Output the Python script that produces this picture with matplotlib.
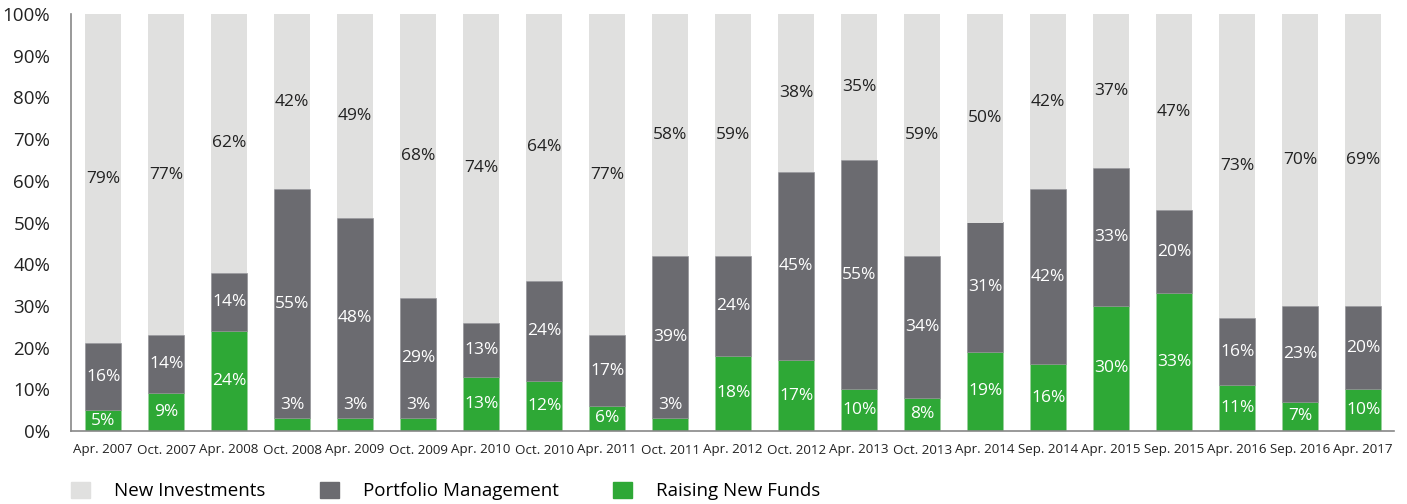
import matplotlib
matplotlib.use("Agg")
import matplotlib.pyplot as plt
from matplotlib.patches import Patch
import numpy as np

plt.rcParams['font.family'] = ['Open Sans', 'DejaVu Sans']

periods = ['Apr. 2007', 'Oct. 2007', 'Apr. 2008', 'Oct. 2008', 'Apr. 2009', 'Oct. 2009',
           'Apr. 2010', 'Oct. 2010', 'Apr. 2011', 'Oct. 2011', 'Apr. 2012', 'Oct. 2012',
           'Apr. 2013', 'Oct. 2013', 'Apr. 2014', 'Sep. 2014', 'Apr. 2015', 'Sep. 2015',
           'Apr. 2016', 'Sep. 2016', 'Apr. 2017']
raising = [5, 9, 24, 3, 3, 3, 13, 12, 6, 3, 18, 17, 10, 8, 19, 16, 30, 33, 11, 7, 10]
portfolio = [16, 14, 14, 55, 48, 29, 13, 24, 17, 39, 24, 45, 55, 34, 31, 42, 33, 20, 16, 23, 20]
new_inv = [79, 77, 62, 42, 49, 68, 74, 64, 77, 58, 59, 38, 35, 59, 50, 42, 37, 47, 73, 70, 69]

c_light = '#e0e0df'
c_dark = '#6b6b70'
c_green = '#2ea836'

fig = plt.figure(figsize=(14.07, 5.04), dpi=100)
ax = fig.add_axes([71 / 1407, 73 / 504, (1394 - 71) / 1407, (431 - 14) / 504])

x = np.arange(len(periods))
r = np.array(raising)
p = np.array(portfolio)
top = r + p
rest = 100 - top
w = 0.57
ax.bar(x, r, w, color=c_green, edgecolor='#9ccf9f', linewidth=0.4)
ax.bar(x, p, w, bottom=r, color=c_dark, edgecolor='#8a8a8e', linewidth=0.4)
ax.bar(x, rest, w, bottom=top, color=c_light, linewidth=0)

fs = 12.5
for i in range(len(x)):
    yg = r[i] / 2 if r[i] >= 4 else r[i] + 3.3
    ax.text(x[i], yg, f'{raising[i]}%', ha='center', va='center', color='white', fontsize=fs)
    ax.text(x[i], r[i] + p[i] / 2, f'{portfolio[i]}%', ha='center', va='center', color='white', fontsize=fs)
    ax.text(x[i], top[i] + rest[i] / 2, f'{new_inv[i]}%', ha='center', va='center', color='#222222', fontsize=fs)

ax.set_xlim(-0.51, 20.49)
ax.set_ylim(0, 100)
ax.set_yticks(range(0, 101, 10))
ax.set_yticklabels([f'{v}%' for v in range(0, 101, 10)], fontsize=13.5, color='#222222')
ax.set_xticks(x)
ax.set_xticklabels(periods, fontsize=9.6, color='#222222')
ax.tick_params(axis='both', length=0)
ax.tick_params(axis='y', pad=15)
ax.tick_params(axis='x', pad=9)
for s in ['top', 'right']:
    ax.spines[s].set_visible(False)
for s in ['left', 'bottom']:
    ax.spines[s].set_color('#888888')
    ax.spines[s].set_linewidth(1.2)

handles = [Patch(color=c_light, label='New Investments'),
           Patch(color=c_dark, label='Portfolio Management'),
           Patch(color=c_green, label='Raising New Funds')]
fig.legend(handles=handles, loc='center left', bbox_to_anchor=(71 / 1407, 13 / 504),
           ncol=3, frameon=False, fontsize=13.5, handlelength=1.0, handleheight=1.0,
           handletextpad=1.3, columnspacing=2.9, borderpad=0, borderaxespad=0)

fig.savefig('out.png', dpi=100)
